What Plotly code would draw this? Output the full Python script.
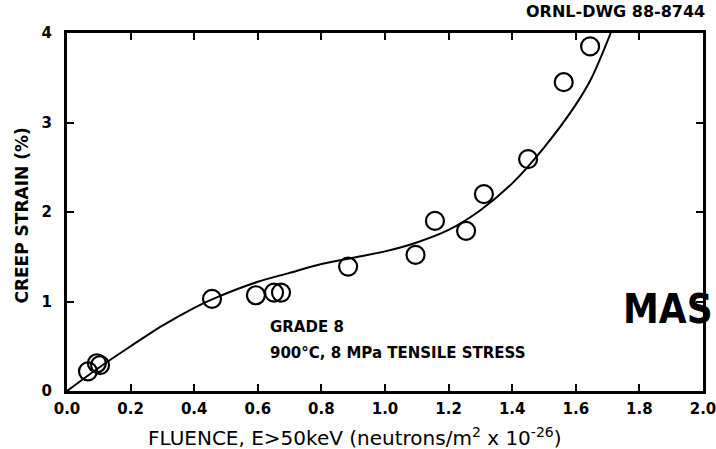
import plotly.graph_objects as go

# Measured data points (fluence, creep strain %)
fluence = [0.066, 0.094, 0.104, 0.456, 0.594, 0.651, 0.673, 0.884, 1.096, 1.157, 1.255, 1.311, 1.450, 1.562, 1.645]
strain = [0.22, 0.31, 0.29, 1.03, 1.07, 1.10, 1.10, 1.39, 1.52, 1.90, 1.79, 2.20, 2.59, 3.45, 3.85]

# Fitted curve
curve_x = [0.0, 0.1, 0.2, 0.3, 0.4, 0.46, 0.6, 0.7, 0.8, 0.9, 1.0, 1.1, 1.2, 1.3, 1.4, 1.5, 1.6, 1.65, 1.71]
curve_y = [0.0, 0.26, 0.50, 0.73, 0.93, 1.03, 1.22, 1.32, 1.42, 1.49, 1.56, 1.66, 1.80, 2.02, 2.32, 2.72, 3.20, 3.50, 4.0]

x_ticks = [0.0, 0.2, 0.4, 0.6, 0.8, 1.0, 1.2, 1.4, 1.6, 1.8, 2.0]
y_ticks = [0, 1, 2, 3, 4]

FONT = "DejaVu Sans"

fig = go.Figure()
fig.add_trace(go.Scatter(
    x=curve_x, y=curve_y, mode="lines",
    line=dict(color="black", width=2, shape="spline", smoothing=0.8),
    hoverinfo="skip",
))
fig.add_trace(go.Scatter(
    x=fluence, y=strain, mode="markers",
    marker=dict(symbol="circle-open", size=18, color="black", line=dict(width=2.2, color="black")),
    cliponaxis=False,
))

axis_common = dict(
    showline=True, linecolor="black", linewidth=3, mirror="ticks",
    ticks="inside", ticklen=7, tickwidth=2, tickcolor="black",
    showgrid=False, zeroline=False, automargin=False, ticklabeloverflow="allow",
    tickfont=dict(family=FONT, size=15, color="black", weight="bold"),
)

fig.update_layout(
    width=716, height=449,
    margin=dict(l=67, r=13, t=33, b=58),
    paper_bgcolor="white", plot_bgcolor="white",
    showlegend=False,
    xaxis=dict(range=[0, 2.0], tickvals=x_ticks, tickformat=".1f", ticklabelstandoff=2, **axis_common),
    yaxis=dict(range=[0, 4], tickvals=y_ticks, ticklabelstandoff=9, **axis_common),
    annotations=[
        # axis titles
        dict(x=0.453, y=0, xref="paper", yref="paper", yshift=-46,
             text="FLUENCE, E>50keV (neutrons/m<sup>2</sup> x 10<sup>-26</sup>)",
             showarrow=False, xanchor="center", yanchor="middle",
             font=dict(family=FONT, size=20, color="black")),
        dict(x=0, y=0.49, xref="paper", yref="paper", xshift=-45,
             text="CREEP STRAIN (%)", textangle=-90,
             showarrow=False, xanchor="center", yanchor="middle",
             font=dict(family=FONT, size=17, color="black", weight="bold")),
        # in-plot labels
        dict(x=0.632, y=0.71, xref="x", yref="y", text="GRADE 8", showarrow=False,
             xanchor="left", yanchor="middle",
             font=dict(family=FONT, size=15, color="black", weight="bold")),
        dict(x=0.632, y=0.42, xref="x", yref="y", text="900°C, 8 MPa TENSILE STRESS", showarrow=False,
             xanchor="left", yanchor="middle",
             font=dict(family=FONT, size=15, color="black", weight="bold")),
        # drawing number
        dict(x=1.0, y=1.0, xref="paper", yref="paper", xshift=4, yshift=22, text="ORNL-DWG 88-8744",
             showarrow=False, xanchor="right", yanchor="middle",
             font=dict(family=FONT, size=16, color="black", weight="bold")),
        # stamp
        dict(x=1.0, y=0.23, xref="paper", yref="paper", xshift=12, text="MAS", showarrow=False,
             xanchor="right", yanchor="middle",
             font=dict(family="DejaVu Sans Condensed", size=40, color="black", weight="bold")),
    ],
)

fig.write_html("out.html", config={"displayModeBar": False},
               post_script="document.body.style.margin='0';")
